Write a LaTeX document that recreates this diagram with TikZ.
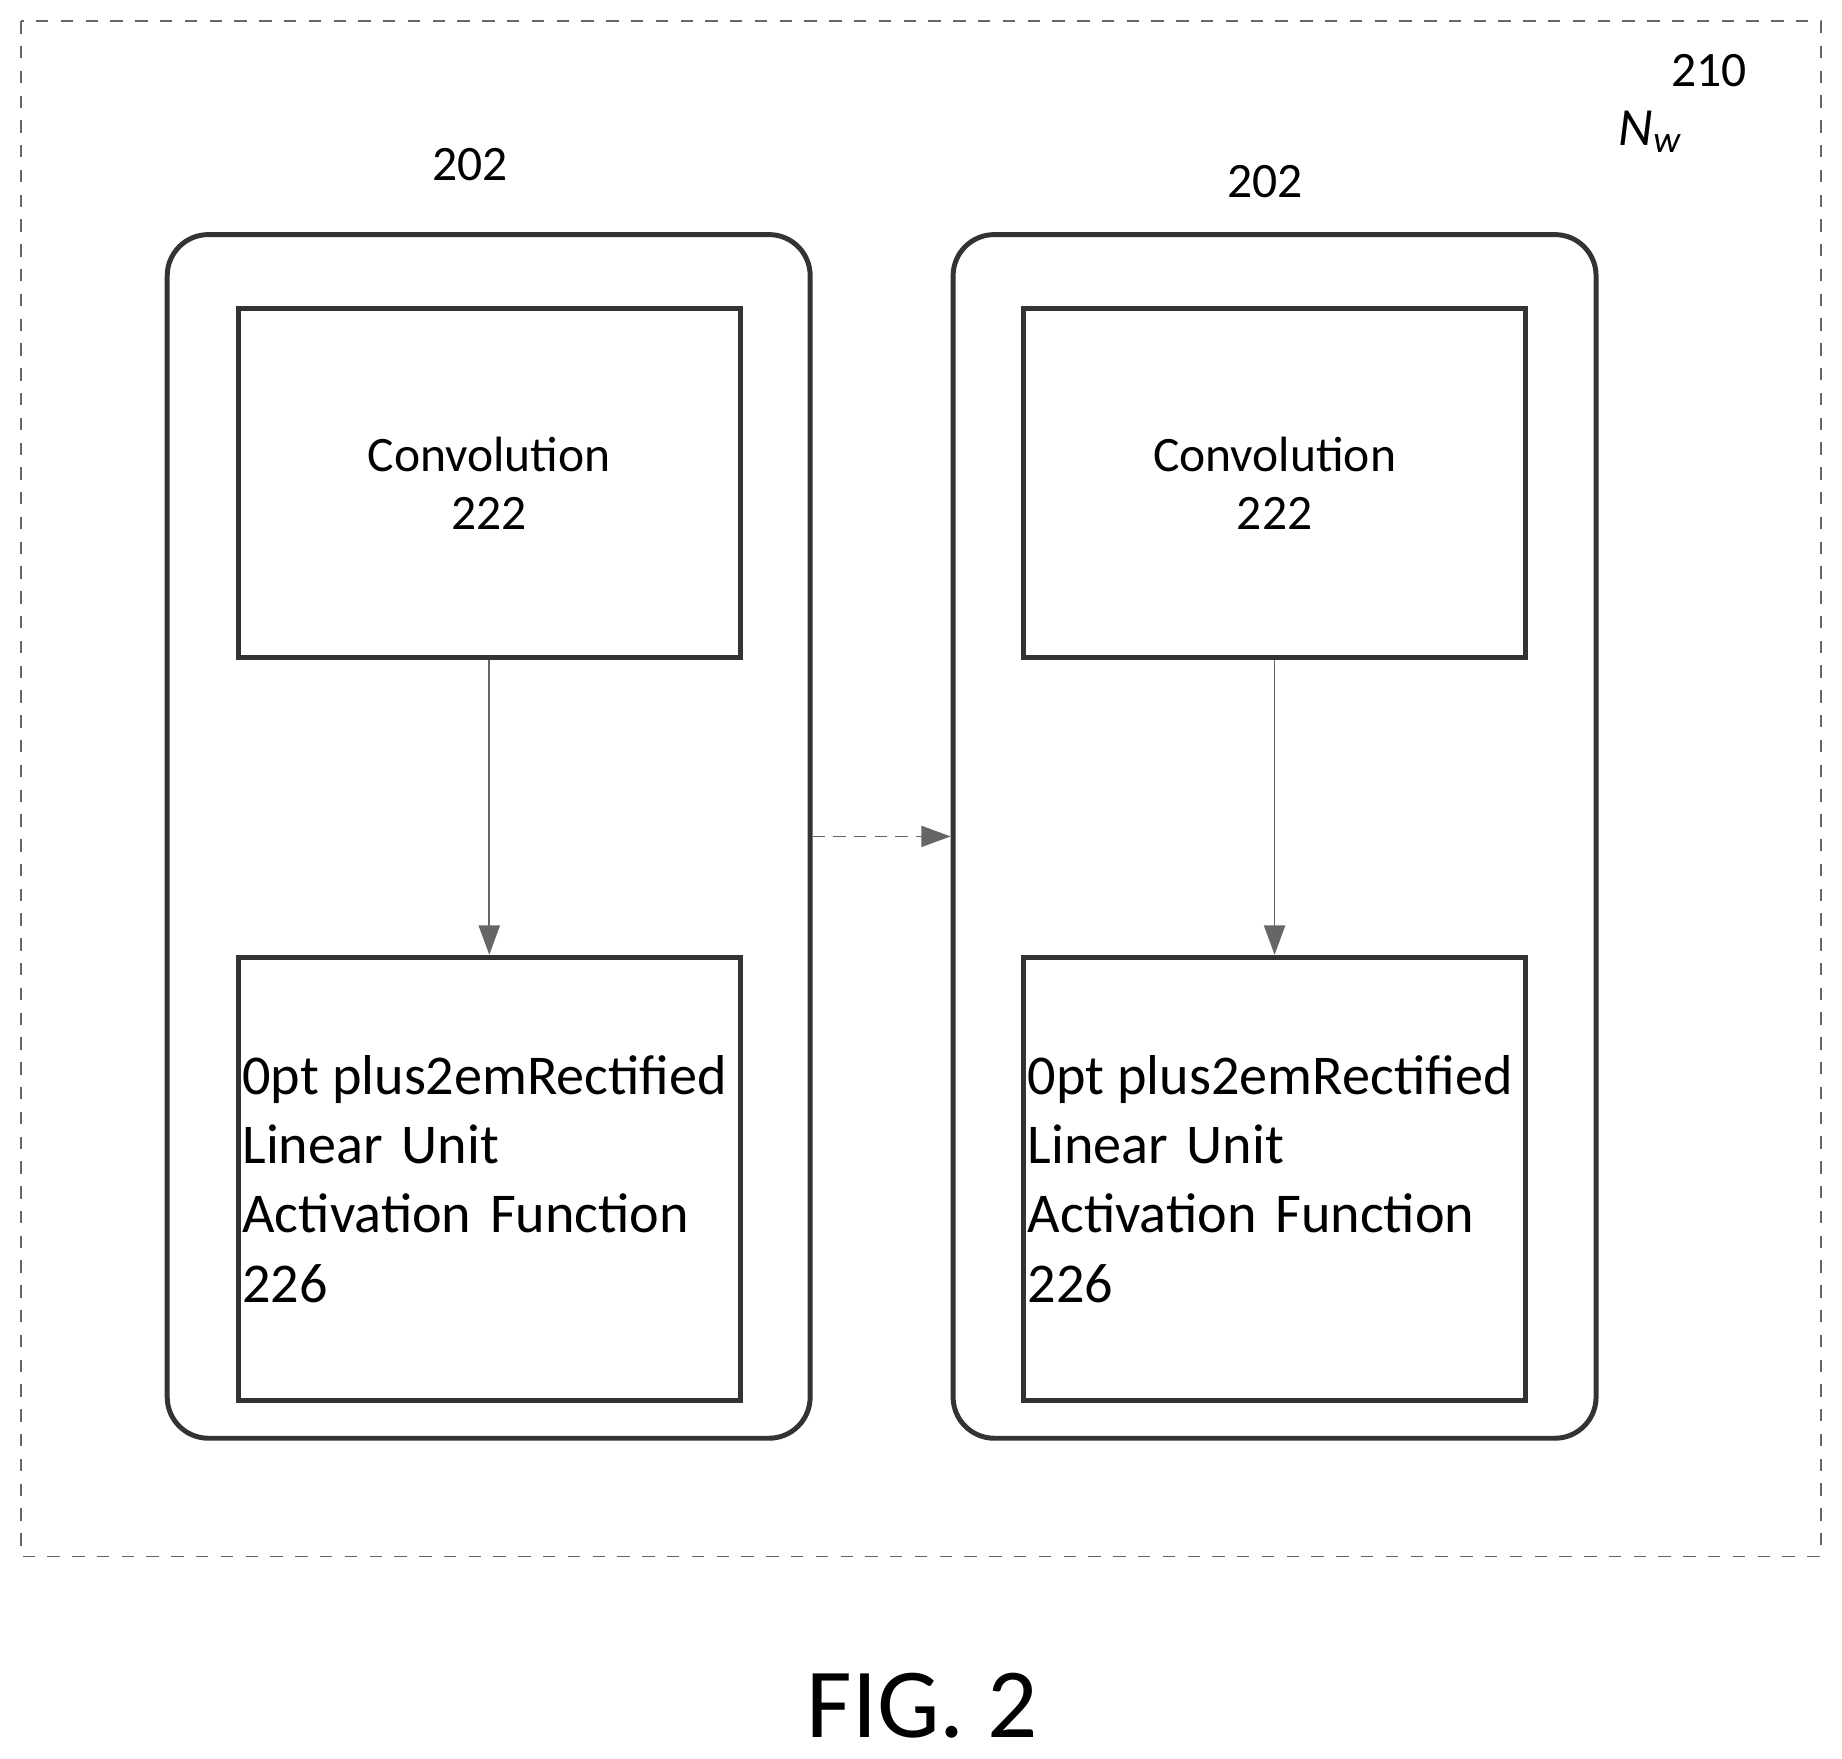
\documentclass[tikz,border=0pt]{standalone}
\usepackage{fontspec}
\setmainfont{Carlito}
\usetikzlibrary{positioning,arrows.meta}

\tikzset{
  block/.style={draw=black!80, line width=1.2pt, minimum width=4.27cm, text width=4.2cm, align=center, inner sep=0pt},
  stage/.style={draw=black!80, line width=1.2pt, rounded corners=0.35cm, minimum width=5.47cm, minimum height=10.24cm},
  flow/.style={draw=black!60, line width=0.4pt, -{Triangle[length=0.25cm, width=0.18cm]}},
}

\begin{document}
\begin{tikzpicture}[x=0.01cm, y=-0.01cm]
\useasboundingbox (0,0) rectangle (1568,1497);
\draw[black!60, dashed, line width=0.4pt] (18,18) rectangle (1550,1325);

% left stage
\node[stage] (stageA) at (416,712) {};
\node[block, minimum height=2.97cm, font=\fontsize{12}{14.2}\selectfont] (convA) at (416.5,411.5) {Convolution\\222};
\node[block, minimum height=3.77cm, font=\fontsize{13.6}{16.8}\selectfont\hyphenpenalty=10000] (reluA) at (416.5,1003.5) {Rectified Linear Unit\\Activation Function\\226};
\node[font=\fontsize{12}{14}\selectfont] (labA) at (400,140) {202};

% right stage
\node[stage] (stageB) at (1085,712) {};
\node[block, minimum height=2.97cm, font=\fontsize{12}{14.2}\selectfont] (convB) at (1085,411.5) {Convolution\\222};
\node[block, minimum height=3.77cm, font=\fontsize{13.6}{16.8}\selectfont\hyphenpenalty=10000] (reluB) at (1085,1003.5) {Rectified Linear Unit\\Activation Function\\226};
\node[font=\fontsize{12}{14}\selectfont] (labB) at (1077,155) {202};

\draw[flow] (convA) -- (reluA);
\draw[flow] (convB) -- (reluB);
\draw[flow, dash pattern=on 3pt off 2pt] (stageA) -- (stageB);

\node[font=\fontsize{12}{14}\selectfont] (num) at (1455,60) {210};
\node[font=\fontsize{13}{14}\selectfont] (nw) at (1405,112) {\textit{N\textsubscript{w}}};
\node[font=\fontsize{24}{28}\selectfont] (fig) at (785,1452) {FIG. 2};
\end{tikzpicture}
\end{document}
